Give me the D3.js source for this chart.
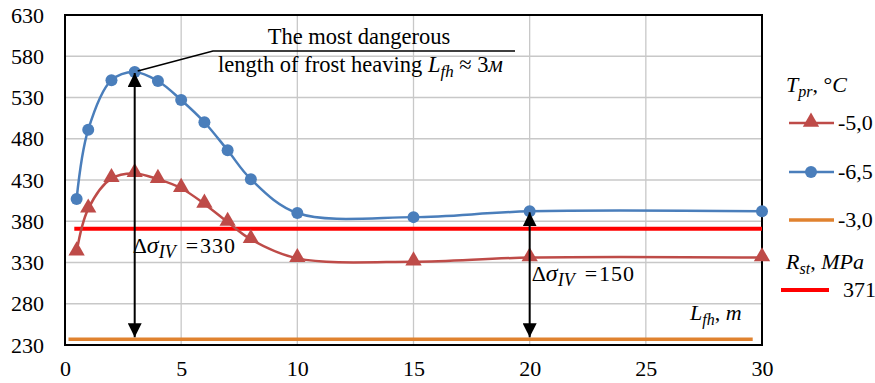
<!DOCTYPE html>
<html>
<head>
<meta charset="utf-8">
<script src="https://cdn.jsdelivr.net/npm/d3@7/dist/d3.min.js"></script>
<style>
  html, body { margin: 0; padding: 0; background: #fff; }
  svg { display: block; }
</style>
</head>
<body>
<svg id="chart" width="875" height="383"></svg>
<script>
// Frost-heaving length vs stress
const lengths = [0.5, 1, 2, 3, 4, 5, 6, 7, 8, 10, 15, 20, 30];
const stressMinus65 = [407, 491, 551, 561, 550, 527, 500, 466, 431, 390, 385, 392, 392];
const stressMinus50 = [343, 395, 432, 438, 431, 420, 401, 379, 358, 335, 331, 336, 336];
const stressMinus30 = 237;          // horizontal level, T = -3,0 °C
const strengthRst = 371;            // R_st, MPa
const flatSpan = [0.15, 29.6];
const rstSpan = [0.4, 30];
const xTicks = [0, 5, 10, 15, 20, 25, 30];
const yTicks = [230, 280, 330, 380, 430, 480, 530, 580, 630];
const arrowAt = [3, 20];
const deltaLabels = ["330", "150"];
const legendLabels = ["-5,0", "-6,5", "-3,0"];

const colBlue = "#4A7EBB", colRed = "#BE4B48", colOrange = "#E0822F", colRst = "#FF0000";
const FONT = '"Liberation Serif", "Tinos", "Times New Roman", serif';
const FS = 22, SUB = 16;

const svg = d3.select("#chart").style("font-family", FONT);
const plotL = 65, plotR = 762, plotT = 15, plotB = 345;

const x = d3.scaleLinear().domain([0, 30]).range([plotL, plotR]);
const y = d3.scaleLinear().domain([230, 630]).range([plotB, plotT]);

function txt(sel, px, py, size) {
  return sel.append("text").attr("x", px).attr("y", py)
    .style("font-family", FONT).style("font-size", (size || FS) + "px").attr("fill", "#000");
}
function sub(t, s, size) {
  t.append("tspan").style("font-style", "italic").style("font-size", (size || SUB) + "px").attr("dy", 5).text(s);
}

// grid
const grid = svg.append("g");
grid.selectAll("line.gx").data(xTicks).join("line")
  .attr("x1", d => x(d)).attr("x2", d => x(d)).attr("y1", plotT).attr("y2", plotB)
  .attr("stroke", "#c8c8c8").attr("stroke-width", 1.3);
grid.selectAll("line.gy").data(yTicks).join("line")
  .attr("x1", plotL).attr("x2", plotR).attr("y1", d => y(d)).attr("y2", d => y(d))
  .attr("stroke", "#c8c8c8").attr("stroke-width", 1.3);

// axes
const xAxis = svg.append("g").attr("transform", `translate(0,${plotB})`)
  .call(d3.axisBottom(x).tickValues(xTicks).tickSize(0).tickPadding(15).tickFormat(d3.format("d")));
const yAxis = svg.append("g").attr("transform", `translate(${plotL},0)`)
  .call(d3.axisLeft(y).tickValues(yTicks).tickSize(0).tickPadding(21).tickFormat(d3.format("d")));
[xAxis, yAxis].forEach(a => {
  a.select(".domain").remove();
  a.attr("font-family", null).attr("font-size", null);
  a.selectAll("text").style("font-family", FONT).style("font-size", FS + "px").attr("fill", "#000");
});

// frame
svg.append("rect").attr("x", plotL).attr("y", plotT).attr("width", plotR - plotL).attr("height", plotB - plotT)
  .attr("fill", "none").attr("stroke", "#000").attr("stroke-width", 2);

// horizontal levels
svg.append("line").attr("x1", x(flatSpan[0])).attr("x2", x(flatSpan[1]))
  .attr("y1", y(stressMinus30)).attr("y2", y(stressMinus30))
  .attr("stroke", colOrange).attr("stroke-width", 3.5);
svg.append("line").attr("x1", x(rstSpan[0])).attr("x2", x(rstSpan[1]))
  .attr("y1", y(strengthRst)).attr("y2", y(strengthRst))
  .attr("stroke", colRst).attr("stroke-width", 4);

// curves
const line = d3.line().curve(d3.curveCatmullRom.alpha(0.5)).x(d => x(d[0])).y(d => y(d[1]));
const blueData = lengths.map((l, i) => [l, stressMinus65[i]]);
const redData = lengths.map((l, i) => [l, stressMinus50[i]]);

svg.append("path").datum(redData).attr("d", line).attr("fill", "none")
  .attr("stroke", colRed).attr("stroke-width", 2.5);
svg.append("path").datum(blueData).attr("d", line).attr("fill", "none")
  .attr("stroke", colBlue).attr("stroke-width", 2.5);

const tri = d3.symbol().type(d3.symbolTriangle).size(115);
svg.append("g").selectAll("path").data(redData).join("path")
  .attr("d", tri).attr("transform", d => `translate(${x(d[0])},${y(d[1]) - 1})`)
  .attr("fill", colRed);
svg.append("g").selectAll("circle").data(blueData).join("circle")
  .attr("cx", d => x(d[0])).attr("cy", d => y(d[1])).attr("r", 6).attr("fill", colBlue);

// arrows
const defs = svg.append("defs");
defs.append("marker").attr("id", "ah").attr("viewBox", "0 0 10 10").attr("refX", 10).attr("refY", 5)
  .attr("markerWidth", 14).attr("markerHeight", 14).attr("markerUnits", "userSpaceOnUse")
  .attr("orient", "auto-start-reverse")
  .append("path").attr("d", "M0,0 L10,5 L0,10 Z").attr("fill", "#000");

arrowAt.forEach(a => {
  const topVal = stressMinus65[lengths.indexOf(a)];
  svg.append("line").attr("x1", x(a)).attr("x2", x(a))
    .attr("y1", y(topVal) + 1).attr("y2", y(stressMinus30) - 2)
    .attr("stroke", "#000").attr("stroke-width", 2)
    .attr("marker-start", "url(#ah)").attr("marker-end", "url(#ah)");
});

// Δσ labels
function deltaLabel(px, py, val) {
  const t = txt(svg, px, py, 22);
  t.append("tspan").text("Δ");
  t.append("tspan").style("font-style", "italic").style("font-size", "24px").text("σ");
  sub(t, "IV", 18);
  t.append("tspan").attr("dy", -5).attr("dx", 10).text("=");
  t.append("tspan").attr("dx", 2).style("letter-spacing", "1px").text(val);
}
deltaLabel(x(3) - 2, 253, deltaLabels[0]);
deltaLabel(x(20) + 2, 281, deltaLabels[1]);

// callout
const peak = [x(3), y(stressMinus65[3])];
svg.append("polyline")
  .attr("points", `${peak[0] + 3},${peak[1] - 1} 213,51 515,51`)
  .attr("fill", "none").attr("stroke", "#000").attr("stroke-width", 1.5);
txt(svg, 359, 44, 22.5).attr("text-anchor", "middle").text("The most dangerous");
const cl = txt(svg, 218, 72, 22.5);
cl.append("tspan").text("length of frost heaving ");
cl.append("tspan").style("font-style", "italic").text("L");
sub(cl, "fh", 17);
cl.append("tspan").attr("dy", -5).text(" ≈ 3");
cl.append("tspan").style("font-style", "italic").text("м");

// x-axis title
const xt = txt(svg, 690, 320);
xt.append("tspan").style("font-style", "italic").text("L");
sub(xt, "fh");
xt.append("tspan").attr("dy", -5).text(", ");
xt.append("tspan").style("font-style", "italic").text("m");

// legend
const lg = svg.append("g");
const lt = txt(lg, 786, 92);
lt.append("tspan").style("font-style", "italic").text("T");
sub(lt, "pr");
lt.append("tspan").attr("dy", -5).text(", °");
lt.append("tspan").style("font-style", "italic").text("C");

const legendRows = [
  { y: 123, color: colRed, mark: "tri" },
  { y: 172, color: colBlue, mark: "circle" },
  { y: 220, color: colOrange, mark: null }
];
legendRows.forEach((r, i) => {
  lg.append("line").attr("x1", 789).attr("x2", 834).attr("y1", r.y).attr("y2", r.y)
    .attr("stroke", r.color).attr("stroke-width", r.mark ? 2.5 : 3.5);
  if (r.mark === "tri") {
    lg.append("path").attr("d", tri).attr("transform", `translate(811,${r.y - 1})`).attr("fill", r.color);
  } else if (r.mark === "circle") {
    lg.append("circle").attr("cx", 811).attr("cy", r.y).attr("r", 6).attr("fill", r.color);
  }
  txt(lg, 838, r.y + 7).text(legendLabels[i]);
});

const rt = txt(lg, 786, 269);
rt.append("tspan").style("font-style", "italic").text("R");
sub(rt, "st");
rt.append("tspan").attr("dy", -5).text(", ");
rt.append("tspan").style("font-style", "italic").text("MPa");
lg.append("line").attr("x1", 781).attr("x2", 829).attr("y1", 290).attr("y2", 290)
  .attr("stroke", colRst).attr("stroke-width", 4);
txt(lg, 843, 297).text(String(strengthRst));
</script>
</body>
</html>
